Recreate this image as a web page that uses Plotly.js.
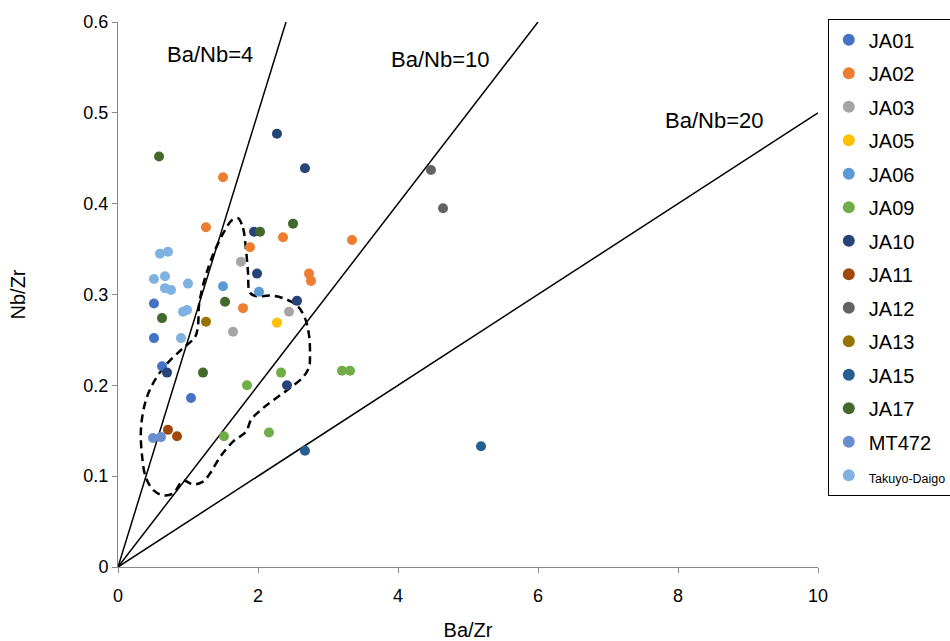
<!DOCTYPE html>
<html>
<head>
<meta charset="utf-8">
<script src="https://cdn.plot.ly/plotly-3.0.1.min.js"></script>
<style>html,body{margin:0;padding:0;background:#fff;}#chart{width:950px;height:641px;}</style>
</head>
<body>
<div id="chart"></div>
<script>
// Series names and colours
const seriesNames = ["JA01","JA02","JA03","JA05","JA06","JA09","JA10","JA11","JA12","JA13","JA15","JA17","MT472","Takuyo-Daigo"];
const seriesColors = ["#4472C4","#ED7D31","#A5A5A5","#FFC000","#5B9BD5","#70AD47","#264478","#9E480E","#636363","#997300","#255E91","#43682B","#698ED0","#7FB2E0"];

// Ba/Zr (x) and Nb/Zr (y) per series
const JA01_x = [0.514, 0.514, 0.629, 1.043];
const JA01_y = [0.290, 0.252, 0.221, 0.186];
const JA02_x = [1.50, 1.257, 2.357, 3.343, 1.886, 2.729, 2.757, 1.786];
const JA02_y = [0.429, 0.374, 0.363, 0.360, 0.352, 0.323, 0.315, 0.285];
const JA03_x = [1.757, 2.443, 1.643];
const JA03_y = [0.336, 0.281, 0.259];
const JA05_x = [2.271];
const JA05_y = [0.269];
const JA06_x = [1.50, 2.014];
const JA06_y = [0.309, 0.303];
const JA09_x = [2.329, 1.843, 3.20, 3.314, 1.514, 2.157];
const JA09_y = [0.214, 0.200, 0.216, 0.216, 0.144, 0.148];
const JA10_x = [2.271, 2.671, 1.943, 1.986, 2.557, 2.414, 0.70];
const JA10_y = [0.477, 0.439, 0.369, 0.323, 0.293, 0.200, 0.214];
const JA11_x = [0.714, 0.843];
const JA11_y = [0.151, 0.144];
const JA12_x = [4.471, 4.643];
const JA12_y = [0.437, 0.395];
const JA13_x = [1.257];
const JA13_y = [0.270];
const JA15_x = [2.671, 5.186];
const JA15_y = [0.128, 0.133];
const JA17_x = [0.586, 2.50, 2.029, 1.529, 0.629, 1.214];
const JA17_y = [0.452, 0.378, 0.369, 0.292, 0.274, 0.214];
const MT472_x = [0.50, 0.614];
const MT472_y = [0.142, 0.143];
const Takuyo_x = [0.60, 0.714, 0.514, 0.671, 0.671, 0.757, 1.00, 0.929, 0.986, 0.90];
const Takuyo_y = [0.345, 0.347, 0.317, 0.320, 0.307, 0.305, 0.312, 0.281, 0.283, 0.252];

const seriesX = [JA01_x, JA02_x, JA03_x, JA05_x, JA06_x, JA09_x, JA10_x, JA11_x, JA12_x, JA13_x, JA15_x, JA17_x, MT472_x, Takuyo_x];
const seriesY = [JA01_y, JA02_y, JA03_y, JA05_y, JA06_y, JA09_y, JA10_y, JA11_y, JA12_y, JA13_y, JA15_y, JA17_y, MT472_y, Takuyo_y];

// Reference ratio lines (Ba/Nb) endpoints
const ratioLabels = ["Ba/Nb=4", "Ba/Nb=10", "Ba/Nb=20"];
const ratioLineX = [[0, 2.4], [0, 6], [0, 10]];
const ratioLineY = [[0, 0.6], [0, 0.6], [0, 0.5]];
const ratioLabelX = [1.314, 4.6, 8.514];
const ratioLabelY = [0.564, 0.559, 0.492];

// Dashed field outline
const fieldX = [1.714,1.786,1.829,1.857,1.886,1.986,2.171,2.357,2.557,2.671,2.729,2.743,2.729,2.643,2.457,2.243,2.057,1.90,1.829,1.643,1.457,1.314,1.214,1.071,0.929,0.786,0.643,0.514,0.40,0.343,0.329,0.40,0.529,0.714,0.929,1.10,1.143,1.157,1.214,1.30,1.386,1.529,1.629,1.714];
const fieldY = [0.384,0.373,0.349,0.325,0.302,0.298,0.299,0.296,0.288,0.274,0.255,0.233,0.220,0.209,0.197,0.185,0.174,0.162,0.149,0.138,0.121,0.103,0.094,0.091,0.095,0.081,0.079,0.084,0.098,0.123,0.153,0.184,0.206,0.225,0.241,0.253,0.266,0.288,0.310,0.332,0.349,0.371,0.382,0.384];

const traces = [];
for (let i = 0; i < ratioLineX.length; i++) {
  traces.push({x: ratioLineX[i], y: ratioLineY[i], mode: 'lines', type: 'scatter',
    line: {color: '#000', width: 1.5}, showlegend: false, hoverinfo: 'skip'});
}
traces.push({x: fieldX, y: fieldY, mode: 'lines', type: 'scatter',
  line: {color: '#000', width: 2.5, dash: '8px,5px', shape: 'spline', smoothing: 1},
  showlegend: false, hoverinfo: 'skip'});
for (let i = 0; i < seriesNames.length; i++) {
  const nm = seriesNames[i] === "Takuyo-Daigo" ? "<span style='font-size:12.5px'>Takuyo-Daigo</span>" : seriesNames[i];
  traces.push({x: seriesX[i], y: seriesY[i], mode: 'markers', type: 'scatter', name: nm,
    legendgroup: 'g' + i,
    marker: {color: seriesColors[i], size: 10}});
}

const annotations = ratioLabels.map((t, i) => ({x: ratioLabelX[i], y: ratioLabelY[i], text: t,
  showarrow: false, xref: 'x', yref: 'y', font: {size: 22, color: '#000'}}));

const layout = {
  width: 950, height: 641,
  margin: {l: 118, r: 132, t: 22, b: 74, autoexpand: false},
  paper_bgcolor: '#fff', plot_bgcolor: '#fff',
  font: {family: 'Liberation Sans, Arial, sans-serif', color: '#000', size: 17},
  showlegend: true,
  legend: {x: 1.014, xanchor: 'left', y: 1.005, yanchor: 'top', bordercolor: '#000', borderwidth: 1,
    font: {size: 20}, tracegroupgap: 4.5, itemsizing: 'constant', maxheight: 620},
  xaxis: {range: [0, 10], dtick: 2, tick0: 0, showgrid: false, zeroline: false,
    showline: true, linecolor: '#888', linewidth: 1, ticks: 'outside', ticklen: 5, tickcolor: '#888',
    ticklabelstandoff: 7,
    tickfont: {size: 18}, title: {text: 'Ba/Zr', font: {size: 20}, standoff: 18}},
  yaxis: {range: [0, 0.6], dtick: 0.1, tick0: 0, showgrid: false, zeroline: false,
    showline: true, linecolor: '#888', linewidth: 1, ticks: 'outside', ticklen: 5, tickcolor: '#888',
    tickfont: {size: 18}, title: {text: 'Nb/Zr', font: {size: 20}, standoff: 52}},
  annotations: annotations
};

Plotly.newPlot('chart', traces, layout, {displayModeBar: false, staticPlot: true});
</script>
</body>
</html>
